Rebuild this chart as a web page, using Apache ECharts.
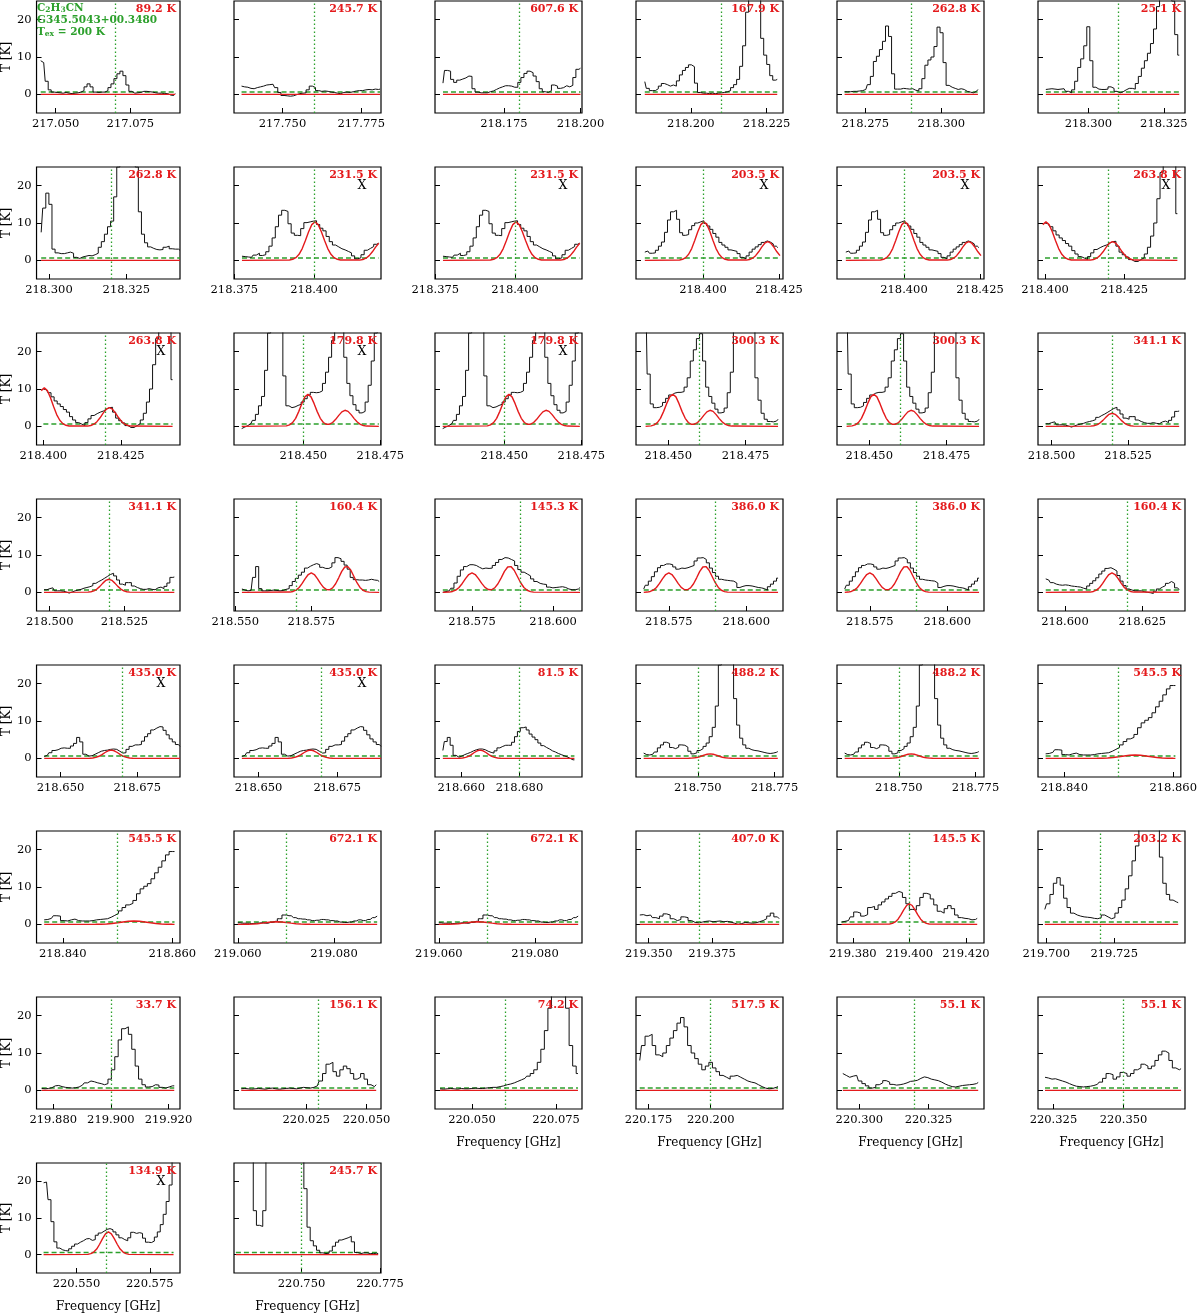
<!DOCTYPE html>
<html lang="en">
  <head>
    <meta charset="UTF-8" />
    <title>C2H3CN line panels - G345.5043+00.3480</title>
    <script src="https://cdn.jsdelivr.net/npm/echarts@6/dist/echarts.min.js"></script>
    <style>
      html, body { margin: 0; padding: 0; background: #fff; }
      #main { width: 1200px; height: 1314px; }
    </style>
  </head>
  <body>
    <div id="main"></div>
    <script>
      // observed spectra: [first channel GHz, last channel GHz, T in K]
      const s01 = [217.0450, 217.0900, [9.0,8.5,3.5,1.2,0.6,0.5,0.4,0.3,0.5,0.3,0.2,0.3,0.4,0.6,1.0,2.0,2.8,2.0,0.6,0.5,0.6,0.6,1.0,1.8,2.8,4.2,5.5,6.2,5.0,2.5,0.8,0.3,0.4,0.5,0.8,0.8,0.7,0.6,0.4,0.3,0.3,0.2,0.2,-0.2,-0.3,0.2]];
      const s02 = [217.7370, 217.7810, [2.2,2.0,1.9,1.6,1.5,1.8,2.0,2.2,2.5,2.6,2.7,1.8,0.5,-0.3,-0.4,-0.5,-0.4,-0.1,0.2,0.3,0.4,1.2,2.2,1.8,1.0,0.8,0.9,0.8,0.6,0.5,0.3,0.2,0.5,0.6,0.5,0.7,0.9,1.0,1.0,1.2,1.3,1.2,1.4,1.3,1.4]];
      const s03 = [218.1551, 218.2000, [3.0,6.4,6.2,4.0,3.2,3.8,4.1,4.4,4.9,4.8,1.5,0.6,0.4,0.4,0.4,0.7,0.9,1.3,1.7,2.0,2.3,2.3,2.2,1.9,1.9,3.2,4.5,5.6,6.2,5.8,4.9,3.4,1.5,0.7,0.5,1.0,2.5,2.2,1.6,1.8,2.3,2.0,2.4,4.5,6.7,7.0]];
      const s04 = [218.1848, 218.2285, [3.4,1.6,1.0,1.0,1.5,2.2,2.9,2.6,2.2,2.5,2.2,3.6,5.2,6.4,7.2,7.9,7.4,3.0,0.5,0.3,0.3,0.2,0.3,0.2,0.3,0.4,0.5,0.7,1.0,1.8,2.6,4.0,7.5,13,22,30,34,32,27,15,10.5,8,5,3.8,4.0]];
      const s05 = [218.2682, 218.3120, [0.7,0.7,0.7,0.8,0.8,0.9,1.0,1.3,2.6,4.8,8.8,10.2,12,14.2,18.3,15.5,5.5,1.4,1.4,1.6,1.5,1.4,1.5,1.1,0.9,1.5,4.2,7.8,9.2,10,12.8,18.0,16.5,8.5,2.4,1.9,1.6,1.3,1.5,1.3,0.8,0.6,0.4,0.8,1.3]];
      const s06 = [218.2859, 218.3301, [1.3,1.4,1.5,1.4,1.3,1.4,1.5,0.8,0.4,1.2,3.5,7.2,9.5,13,18.1,9,1.9,1.4,1.3,1.3,1.4,2.0,1.6,0.8,0.4,0.7,1.2,1.6,1.6,1.4,2.9,4.8,7,9,11,13.6,17.5,23.5,28,30,31,30,25,16,10.5]];
      const s07 = [218.2975, 218.3423, [7.5,14,18,15,3,2.0,1.8,1.8,2.0,2.2,1.9,0.8,0.5,0.9,1.1,1.3,1.2,1.5,1.9,3.5,5,7,9,10.5,17,25,32,36,38,36,32,25,13,7,4.7,3.6,3.2,2.9,2.8,2.9,3.5,3.8,3.1,3.0,3.0,2.7]];
      const s08 = [218.3774, 218.4202, [1.1,1.0,0.9,0.8,1.4,1.9,1.3,1.5,2.3,3.8,6.0,9.0,12.1,13.4,13.1,9.8,7.3,6.7,6.6,8.5,10.1,10.3,10.5,10.6,9.6,8.6,7.9,6.4,5.0,4.1,3.6,3.1,2.8,2.4,2.0,1.2,0.4,0.7,1.5,2.7,3.2,3.7,4.3,4.6]];
      const s10 = [218.3809, 218.4246, [2.2,2.5,1.9,2.0,2.7,3.8,4.9,7.5,10.8,13,13.4,11,7.4,6.7,6.9,8.2,9.3,10,10.3,10.6,9.9,9.2,8.3,7.2,6.2,4.8,4.1,3.5,2.8,2.6,2.4,1.8,0.8,0.4,1.2,2.2,3.0,3.6,4.2,4.8,5.2,4.9,4.4,3.8,3.4]];
      const s12 = [218.4000, 218.4417, [10.0,9.8,9.0,7.9,6.8,6.0,5.3,4.5,3.8,2.6,1.7,1.0,0.6,0.2,1.0,2.0,2.9,3.4,3.8,4.1,4.6,5.0,5.1,3.8,2.2,1.5,0.9,0.2,-0.3,-0.3,0.2,0.7,1.7,3.5,6.5,10,16.5,23.5,28,30,30,28,12.5]];
      const s14 = [218.4300, 218.4745, [-0.6,-0.2,0.2,0.7,1.6,3.2,5.5,8,15,25,35,45,50,45,13.5,5.5,5.0,5.2,5.6,5.9,6.5,7.4,8.4,9.1,9.0,9.1,9.5,11.5,14.5,18.5,23,25.5,26,25.5,18.5,11.5,8.2,5.8,4.3,3.6,4.0,6.5,11,17.5,25,32]];
      const s16 = [218.4427, 218.4855, [40,14,6,5.0,5.1,5.5,6.4,7.5,8.4,8.9,9.1,9.1,9.3,10.5,13,17.5,20.5,23.5,24.8,17.5,10.5,8.0,6.2,4.6,3.6,3.8,4.9,9,14.5,26,45,60,65,60,45,30,13,7,3.5,1.9,1.3,1.2,1.4,1.9]];
      const s18 = [218.4981, 218.5417, [0.7,0.7,1.0,1.2,0.4,0.4,0.3,0.1,-0.2,0.1,0.4,0.6,0.8,1.1,1.3,1.5,1.8,2.4,2.9,3.3,3.8,4.3,4.8,5.1,4.4,3.3,2.2,1.9,2.6,2.6,1.7,1.3,1.0,0.8,0.8,1.0,0.8,0.7,1.2,1.4,1.0,1.6,2.5,4.0,4.1]];
      const s20 = [218.5522, 218.5973, [0.9,0.6,0.4,0.5,4.0,6.9,1.0,0.4,0.4,0.5,0.6,0.5,0.4,0.5,0.8,1.0,1.8,2.9,3.7,4.6,5.4,6.5,7.0,7.4,7.7,7.4,6.7,6.4,6.4,6.8,7.9,9.3,9.0,8.3,7.3,6.2,4.0,3.4,3.3,3.3,3.2,3.3,3.5,3.3,3.2,2.9]];
      const s21 = [218.5660, 218.6083, [0,0.2,0.4,1.1,2.5,4.3,6.0,6.9,7.4,7.4,7.2,6.7,6.3,6.5,6.4,6.5,7.2,8.0,8.8,9.3,9.2,8.8,8.4,7.2,6.1,5.4,4.9,4.4,3.6,2.9,2.4,2.2,2.1,1.4,1.2,1.3,1.4,1.5,1.3,0.9,0.7,0.7,0.9,1.3]];
      const s22 = [218.5669, 218.6103, [0.9,1.9,3.0,4.2,5.5,6.6,7.2,7.6,7.6,7.4,6.8,6.2,6.5,6.4,6.6,6.9,7.2,8.4,9.2,9.3,8.8,7.9,6.5,5.3,4.3,3.5,3.3,3.2,3.1,3.0,2.5,1.3,1.6,1.8,1.8,1.7,1.5,1.3,1.2,1.0,0.6,1.5,2.2,3.0,3.8]];
      const s24 = [218.5938, 218.6369, [3.6,3.3,2.6,2.2,2.0,1.9,2.0,1.9,1.7,1.6,1.5,1.4,1.1,0.9,1.7,2.4,3.1,3.9,4.9,5.7,6.4,6.6,6.2,5.7,4.5,3.0,1.8,0.9,0.6,0.4,0.4,0.4,0.2,0.0,-0.1,-0.3,0.3,0.9,1.4,1.8,2.4,2.9,2.4,1.2,0.7]];
      const s25 = [218.6447, 218.6889, [0.5,0.8,1.5,2.1,2.3,2.7,2.8,2.7,2.7,3.3,4.0,5.6,4.4,1.1,0.6,0.7,1.1,1.5,1.9,2.1,2.2,2.4,2.5,2.4,1.9,1.4,1.5,2.4,3.2,3.6,3.6,3.7,4.6,5.8,6.6,7.6,8.1,8.5,8.4,7.5,6.3,5.2,4.4,3.7,3.2]];
      const s27 = [218.6537, 218.6989, [2.1,4.5,5.6,3.5,0.8,0.3,0.6,1.0,1.3,1.6,2.0,2.3,2.5,2.5,2.3,1.9,1.6,1.4,2.0,2.8,3.2,3.5,3.5,3.5,4.3,5.8,7.2,8.2,8.4,7.6,6.5,5.7,5.0,4.1,3.4,2.9,2.5,2.0,1.7,1.3,1.0,0.7,0.4,0.0,-0.4,-0.4]];
      const s28 = [218.7323, 218.7761, [1.4,1.0,0.9,1.1,1.7,2.8,3.6,4.3,4.0,2.9,2.6,3.0,3.6,3.5,3.0,1.9,1.2,1.5,2.1,2.6,3.2,4.1,5.8,8.3,14,25,42,55,48,28,16,8.9,5.4,3.6,2.7,2.3,2.1,2.0,1.8,1.6,1.4,1.3,1.4,1.6,1.8]];
      const s30 = [218.8366, 218.8604, [1.2,1.3,1.6,2.3,2.2,1.0,0.9,1.2,1.4,1.0,0.9,0.9,0.9,1.0,1.2,1.3,1.4,1.5,1.9,2.4,2.9,3.6,4.5,5.2,5.6,6.4,8.2,9.5,10.2,10.9,12.2,13.8,15.3,17,18.6,19.5,19.5]];
      const s32 = [219.0600, 219.0890, [0.4,0.3,0.3,0.2,0.3,0.4,0.3,0.5,0.8,1.5,2.5,2.3,1.8,1.5,1.4,1.2,1.0,1.1,1.3,1.2,1.0,0.9,0.6,0.5,0.6,0.9,1.2,1.0,1.3,1.8,2.2]];
      const s34 = [219.3465, 219.4015, [2.5,2.6,2.3,2.5,1.8,1.5,2.2,2.8,2.5,1.5,1.0,1.3,2.0,1.8,1.0,0.5,0.4,0.6,0.8,0.9,0.7,0.8,0.9,0.7,0.8,0.6,0.3,0.0,0.2,0.5,0.4,0.3,0.4,0.7,1.0,1.5,2.2,3.0,2.0,1.5]];
      const s35 = [219.3760, 219.4240, [0.6,0.8,1.0,2.0,3.3,3.0,2.2,2.6,4.5,4.8,4.0,5.2,6.0,6.8,7.5,8.3,8.8,8.5,7.2,5.5,4.0,3.8,5.0,7.2,8.3,8.0,6.8,5.2,3.5,3.0,4.2,5.0,4.2,2.5,1.8,1.6,1.5,1.2,1.3,1.6]];
      const s36 = [219.6995, 219.7485, [4.0,5.5,8.0,11.0,12.5,10.5,7.0,4.5,3.0,2.5,2.2,2.0,1.9,1.8,1.6,1.5,1.8,2.5,2.0,1.5,1.8,3.0,4.5,6.5,9.5,13,17,21,26,30,33,34,32,26,18,11,8,6.5,6.0,5.8]];
      const s37 = [219.8760, 219.9220, [0.5,0.4,0.5,0.7,1.2,1.3,1.0,0.8,0.7,0.6,0.7,0.9,1.4,2.0,2.5,2.3,2.0,1.8,1.5,1.8,3.0,5.5,9.0,13.5,16.5,17.0,15.0,11.0,6.5,3.0,1.5,0.9,1.0,1.5,1.4,0.8,0.6,0.9,1.2,1.2]];
      const s38 = [219.9980, 220.0540, [0.4,0.5,0.4,0.3,0.4,0.5,0.4,0.3,0.5,0.6,0.4,0.3,0.4,0.5,0.6,0.5,0.4,0.6,0.8,0.7,0.6,0.8,1.2,2.5,4.5,7.0,7.5,5.0,3.8,5.5,6.5,5.8,4.5,3.0,3.5,4.5,3.0,1.5,1.0,1.5]];
      const s39 = [220.0405, 220.0815, [0.4,0.3,0.4,0.5,0.4,0.3,0.5,0.4,0.4,0.5,0.6,0.5,0.5,0.6,0.7,0.8,0.8,1.0,1.2,1.5,1.7,2.0,2.4,2.8,3.2,3.8,4.5,5.5,7.5,11,16,22,30,38,40,35,22,12,6.5,4.5]];
      const s40 = [220.1715, 220.2270, [8,12,14.5,15,12,9.5,9,10,12,14,16,18,19.5,17,12,10,8.5,7,5.5,6.5,7.5,6,5,4,3.5,3,3.8,4,3.5,3,2.5,2.2,2,1.5,1,0.6,0.4,0.5,0.8,1.0]];
      const s41 = [220.2940, 220.3430, [4.5,4.0,3.5,3.8,4.0,2.5,1.8,1.2,0.6,0.8,1.5,2.0,2.6,2.2,1.6,1.4,1.5,1.7,2.0,2.4,2.5,2.7,3.2,3.6,3.4,3.0,2.8,2.6,2.2,1.7,1.3,1.0,0.9,1.1,1.3,1.4,1.5,1.6,1.8,2.1]];
      const s42 = [220.3220, 220.3705, [3.5,3.3,3.0,3.1,2.8,2.5,2.2,1.8,1.4,1.1,1.0,0.9,1.0,1.1,1.3,1.6,2.2,3.2,4.5,4.2,3.0,3.6,4.8,4.5,3.8,4.5,5.5,6.0,7.0,6.5,5.8,6.5,8.0,9.5,10.5,10.0,8.0,6.0,5.5,5.8]];
      const s43 = [220.5388, 220.5831, [19.6,19.8,15,9,3.5,1.8,1.3,1.1,1.0,1.6,2.3,2.9,3.4,3.8,4.3,4.4,3.9,4.1,5.3,5.9,6.4,6.9,7.1,6.8,6.2,5.4,4.6,4.1,3.8,4.6,6.1,5.8,6.0,5.8,4.5,3.4,3.3,3.7,4.8,6.2,8.2,11,14.5,19,28]];
      const s44 = [220.7291, 220.7744, [50,55,55,50,40,30,12,8,7.7,12,26,45,60,70,75,75,70,65,55,45,38,30,18,7.5,3.8,2.4,1.2,0.5,0.3,0.4,1.0,2.3,3.4,4.0,4.3,4.6,5.0,3.5,0.6,0.3,0.5,0.5,0.3,0.3,0.4,0.3]];

      // LTE model (red), 1 MHz channels: [first channel GHz, T in K]
      const m01 = [218.3923, [0.09,0.28,0.72,1.62,3.15,5.29,7.66,9.57,10.3,9.57,7.66,5.29,3.15,1.62,0.72,0.28,0.09]];
      const m02 = [218.4143, [0.07,0.22,0.57,1.25,2.29,3.54,4.59,5.0,4.59,3.54,2.29,1.25,0.57,0.22,0.07]];
      const m03 = [218.4445, [0.12,0.38,0.98,2.14,3.94,6.08,7.89,8.6,7.89,6.08,3.94,2.15,1.03,0.55,0.57,1.03,1.87,2.93,3.87,4.3,4.01,3.14,2.07,1.15,0.54,0.21,0.07]];
      const m04 = [218.5128, [0.05,0.16,0.40,0.87,1.60,2.47,3.21,3.5,3.21,2.47,1.60,0.87,0.40,0.16,0.05]];
      const m05 = [218.5680, [0.07,0.23,0.59,1.29,2.38,3.68,4.77,5.2,4.77,3.68,2.39,1.34,0.75,0.69,1.18,2.29,3.89,5.61,6.78,6.90,5.91,4.25,2.57,1.30,0.56,0.20,0.06]];
      const m06 = [218.6082, [0.07,0.23,0.59,1.29,2.38,3.68,4.77,5.2,4.77,3.68,2.38,1.29,0.59,0.23,0.07]];
      const m07 = [218.6595, [0.03,0.10,0.25,0.55,1.01,1.56,2.02,2.2,2.02,1.56,1.01,0.55,0.25,0.10,0.03]];
      const m08 = [218.7470, [0.02,0.05,0.14,0.30,0.55,0.85,1.10,1.2,1.10,0.85,0.55,0.30,0.14,0.05,0.02]];
      const m09 = [218.8460, [0.01,0.04,0.10,0.22,0.41,0.64,0.83,0.9,0.83,0.64,0.41,0.22,0.10,0.04,0.01]];
      const m10 = [219.0611, [0.01,0.03,0.08,0.17,0.32,0.49,0.64,0.7,0.64,0.49,0.32,0.17,0.08,0.03,0.01]];
      const m11 = [219.3930, [0.08,0.24,0.63,1.37,2.52,3.89,5.04,5.5,5.04,3.89,2.52,1.37,0.63,0.24,0.08]];
      const m12 = [220.5539, [0.09,0.27,0.71,1.54,2.84,4.38,5.69,6.2,5.69,4.38,2.84,1.54,0.71,0.27,0.09]];

      // one entry per panel, reading order
      const specOf = [s01,s02,s03,s04,s05,s06, s07,s08,s08,s10,s10,s12, s12,s14,s14,s16,s16,s18,
                      s18,s20,s21,s22,s22,s24, s25,s25,s27,s28,s28,s30, s30,s32,s32,s34,s35,s36,
                      s37,s38,s39,s40,s41,s42, s43,s44];
      const modelOf = [[],[],[],[],[],[], [],[m01,m02],[m01,m02],[m01,m02],[m01,m02],[m01,m02],
                       [m01,m02],[m03],[m03],[m03],[m03],[m04], [m04],[m05],[m05],[m05],[m05],[m06],
                       [m07],[m07],[m07],[m08],[m08],[m09], [m09],[m10],[m10],[],[m11],[],
                       [],[],[],[],[],[], [m12],[]];
      const xMin = [217.0436,217.7346,218.1525,218.1819,218.2657,218.2833,
                    218.2960,218.3749,218.3749,218.3780,218.3780,218.3978,
                    218.3978,218.4275,218.4275,218.4396,218.4396,218.4956,
                    218.4956,218.5496,218.5636,218.5644,218.5644,218.5913,
                    218.6422,218.6422,218.6510,218.7298,218.7298,218.8352,
                    218.8352,219.0592,219.0592,219.3450,219.3744,219.6970,
                    219.8742,219.9950,220.0390,220.1700,220.2919,220.3195,
                    220.5364,220.7285];
      const xMax = [217.0916,217.7813,218.2005,218.2304,218.3140,218.3320,
                    218.3423,218.4210,218.4210,218.4263,218.4263,218.4441,
                    218.4441,218.4752,218.4752,218.4871,218.4871,218.5436,
                    218.5436,218.5979,218.6089,218.6119,218.6119,218.6388,
                    218.6889,218.6889,218.7015,218.7778,218.7778,218.8614,
                    218.8614,219.0898,219.0898,219.4030,219.4264,219.7510,
                    219.9240,220.0560,220.0827,220.2290,220.3451,220.3719,
                    220.5853,220.7753];
      const lineFreq = [217.0672,217.7585,218.1752,218.2061,218.2898,218.3080,
                        218.3202,218.3988,218.3988,218.4024,218.4024,218.4212,
                        218.4212,218.4515,218.4515,218.4636,218.4636,218.5198,
                        218.5198,218.5746,218.5869,218.5884,218.5884,218.6152,
                        218.6665,218.6665,218.6768,218.7540,218.7540,218.8530,
                        218.8530,219.0681,219.0681,219.3740,219.4000,219.7246,
                        219.8980,220.0255,220.0607,220.1995,220.3185,220.3457,
                        220.5609,220.7526];
      const eupLabel = ['89.2 K','245.7 K','607.6 K','167.9 K','262.8 K','25.1 K',
                        '262.8 K','231.5 K','231.5 K','203.5 K','203.5 K','263.8 K',
                        '263.8 K','179.8 K','179.8 K','300.3 K','300.3 K','341.1 K',
                        '341.1 K','160.4 K','145.3 K','386.0 K','386.0 K','160.4 K',
                        '435.0 K','435.0 K','81.5 K','488.2 K','488.2 K','545.5 K',
                        '545.5 K','672.1 K','672.1 K','407.0 K','145.5 K','203.2 K',
                        '33.7 K','156.1 K','74.2 K','517.5 K','55.1 K','55.1 K',
                        '134.9 K','245.7 K'];
      const xTicks = [[217.050,217.075],[217.750,217.775],[218.175,218.200],[218.200,218.225],[218.275,218.300],[218.300,218.325],
                      [218.300,218.325],[218.375,218.400],[218.375,218.400],[218.400,218.425],[218.400,218.425],[218.400,218.425],
                      [218.400,218.425],[218.450,218.475],[218.450,218.475],[218.450,218.475],[218.450,218.475],[218.500,218.525],
                      [218.500,218.525],[218.550,218.575],[218.575,218.600],[218.575,218.600],[218.575,218.600],[218.600,218.625],
                      [218.650,218.675],[218.650,218.675],[218.660,218.680],[218.750,218.775],[218.750,218.775],[218.840,218.860],
                      [218.840,218.860],[219.060,219.080],[219.060,219.080],[219.350,219.375],[219.380,219.400,219.420],[219.700,219.725],
                      [219.880,219.900,219.920],[220.025,220.050],[220.050,220.075],[220.175,220.200],[220.300,220.325],[220.325,220.350],
                      [220.550,220.575],[220.750,220.775]];
      const yTicks = [0, 10, 20];
      const blended = [7, 8, 9, 10, 11, 12, 13, 14, 24, 25, 42];
      const withFreqName = [38, 39, 40, 41, 42, 43];
      const noiseLevel = 0.6;

      const GREEN = "#2ca02c", RED = "#e41a1c", SERIF = "DejaVu Serif";
      const COLS = 6, LEFT0 = 33, TOP0 = 1, BOX_W = 147, BOX_H = 112, STEP_X = 201, STEP_Y = 166;

      function spectrumData(s) {
        const [a, b, t] = s;
        return t.map((v, k) => [a + ((b - a) * k) / (t.length - 1), v]);
      }
      function modelData(blocks, a, b) {
        const pts = [];
        blocks.forEach(([f, t]) => t.forEach((v, k) => pts.push([f + k * 0.001, v])));
        const inside = pts
          .filter((p) => p[0] >= a - 0.001 && p[0] <= b + 0.001)
          .sort((p, q) => p[0] - q[0]);
        if (!inside.length || inside[0][0] > a) inside.unshift([a, 0]);
        if (inside[inside.length - 1][0] < b) inside.push([b, 0]);
        return inside;
      }

      const grid = [], xAxis = [], yAxis = [], series = [], graphic = [];
      specOf.forEach((spec, i) => {
        const col = i % COLS, row = Math.floor(i / COLS);
        const left = LEFT0 + col * STEP_X, top = TOP0 + row * STEP_Y;
        const a = spec[0], b = spec[1];

        grid.push({ left, top, width: BOX_W, height: BOX_H, show: true, borderColor: "#000", borderWidth: 1.2 });
        xAxis.push({
          gridIndex: i, type: "value", min: xMin[i], max: xMax[i],
          axisLine: { show: false, onZero: false }, splitLine: { show: false },
          axisTick: { inside: true, length: 5, customValues: xTicks[i], lineStyle: { color: "#000" } },
          axisLabel: { customValues: xTicks[i], formatter: (v) => v.toFixed(3), color: "#000", fontFamily: SERIF, fontSize: 11.5, margin: 5 },
          name: withFreqName.includes(i) ? "Frequency [GHz]" : "",
          nameLocation: "middle", nameGap: 28,
          nameTextStyle: { color: "#000", fontFamily: SERIF, fontSize: 12 },
        });
        yAxis.push({
          gridIndex: i, type: "value", min: -5, max: 25,
          axisLine: { show: false, onZero: false }, splitLine: { show: false },
          axisTick: { inside: true, length: 5, customValues: yTicks, lineStyle: { color: "#000" } },
          axisLabel: { show: col === 0, customValues: yTicks, color: "#000", fontFamily: SERIF, fontSize: 11.5, margin: 5 },
          name: col === 0 ? "T [K]" : "", nameLocation: "middle", nameGap: 21, nameRotate: 90,
          nameTextStyle: { color: "#000", fontFamily: SERIF, fontSize: 12 },
        });

        // noise level + line position
        series.push({
          type: "line", xAxisIndex: i, yAxisIndex: i, z: 2, silent: true,
          data: [[a, noiseLevel], [b, noiseLevel]], showSymbol: false,
          lineStyle: { color: GREEN, width: 1.5, type: [5, 3] },
          markLine: {
            silent: true, symbol: ["none", "none"], label: { show: false },
            lineStyle: { color: GREEN, width: 1.3, type: [1.5, 2.5] },
            data: [{ xAxis: lineFreq[i] }],
          },
        });
        // observed spectrum
        series.push({
          type: "line", xAxisIndex: i, yAxisIndex: i, z: 3, silent: true,
          data: spectrumData(spec), step: "middle", showSymbol: false,
          lineStyle: { color: "#111", width: 1 },
        });
        // model
        series.push({
          type: "line", xAxisIndex: i, yAxisIndex: i, z: 4, silent: true,
          data: modelData(modelOf[i], a, b), showSymbol: false,
          lineStyle: { color: RED, width: 1.4 },
        });

        graphic.push({
          type: "text", x: left + BOX_W - 4, y: top + 3, z: 10,
          style: { text: eupLabel[i], fill: RED, font: `bold 11px "${SERIF}"`, textAlign: "right", textVerticalAlign: "top", align: "right", verticalAlign: "top" },
        });
        if (blended.includes(i)) {
          graphic.push({
            type: "text", x: left + BOX_W * 0.87, y: top + BOX_H * 0.17, z: 10,
            style: { text: "X", fill: "#000", font: `12.5px "${SERIF}"`, textAlign: "center", textVerticalAlign: "middle", align: "center", verticalAlign: "middle" },
          });
        }
      });

      graphic.push({
        type: "text", x: LEFT0 + 4, y: TOP0 + 1, z: 10,
        style: {
          text: "{t|C}{s|2}{t|H}{s|3}{t|CN}\n{t|G345.5043+00.3480}\n{t|T}{s|ex}{t| = 200 K}",
          rich: {
            t: { fill: GREEN, fontFamily: SERIF, fontWeight: "bold", fontSize: 10.5, lineHeight: 12 },
            s: { fill: GREEN, fontFamily: SERIF, fontWeight: "bold", fontSize: 7.5, lineHeight: 12, verticalAlign: "bottom", padding: [3, 0, 0, 0] },
          },
        },
      });

      const chart = echarts.init(document.getElementById("main"), null, { renderer: "canvas" });
      chart.setOption({ animation: false, backgroundColor: "#fff", grid, xAxis, yAxis, series, graphic });
      window.addEventListener("resize", () => chart.resize());
    </script>
  </body>
</html>
